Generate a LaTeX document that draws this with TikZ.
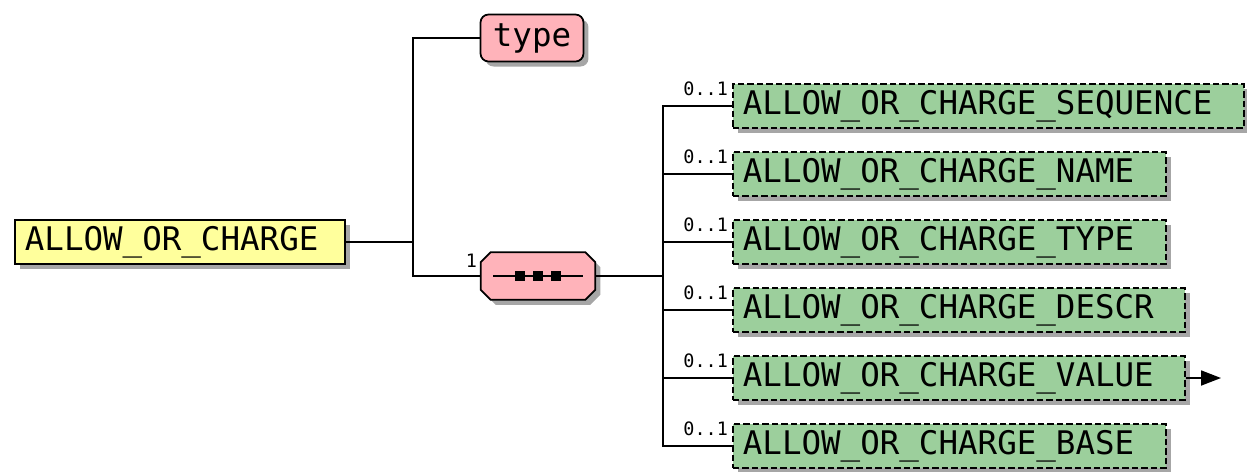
\documentclass[tikz,border=0pt]{standalone}
\usepackage{fontspec}
\setmonofont{DejaVu Sans Mono}
\usepackage{xcolor}
\usepackage{tikz}
\usetikzlibrary{arrows.meta,positioning,calc,shadows}

\definecolor{rootyellow}{HTML}{FFFF9C}
\definecolor{attrpink}{HTML}{FFB3BA}
\definecolor{elemgreen}{HTML}{9CCF9C}
\definecolor{shadowgray}{HTML}{A6A6A6}

\begin{document}
\begin{tikzpicture}[
  x=0.02cm, y=-0.02cm,
  font=\ttfamily\fontsize{18.5}{20}\selectfont,
  shade/.style={drop shadow={shadow xshift=0.1cm, shadow yshift=-0.1cm, fill=shadowgray, opacity=1}},
  root/.style={draw, line width=1pt, fill=rootyellow, shade, anchor=west, align=left, inner xsep=0.2cm, minimum height=0.88cm},
  attr/.style={draw, line width=1pt, fill=attrpink, shade, rounded corners=0.16cm, minimum width=2.06cm, minimum height=0.94cm, inner sep=0pt},
  seq/.style={minimum width=2.28cm, minimum height=0.94cm, inner sep=0pt},
  seqoutline/.style={draw, line width=1pt, fill=attrpink, shade},
  elem/.style={draw, line width=1pt, dash pattern=on 0.13cm off 0.06cm, fill=elemgreen, shade, anchor=west, align=left, inner xsep=0.2cm, minimum height=0.88cm},
  wire/.style={line width=1pt},
  card/.style={font=\ttfamily\fontsize{10.5}{12}\selectfont, inner sep=1pt, anchor=south east}
]
\useasboundingbox (0,0) rectangle (1247,471);

% root element
\node[root, text width=6.2cm] (charge) at (14,242) {ALLOW\_OR\_CHARGE};

% attribute and sequence
\node[attr] (type) at (532,38) {type};
\node[seq] (sequence) at (538,276) {};
\draw[seqoutline] ($(sequence.north west)+(10,0)$) -- ($(sequence.north east)+(-10,0)$)
  -- ($(sequence.north east)+(0,10)$) -- ($(sequence.south east)+(0,-10)$)
  -- ($(sequence.south east)+(-10,0)$) -- ($(sequence.south west)+(10,0)$)
  -- ($(sequence.south west)+(0,-10)$) -- ($(sequence.north west)+(0,10)$) -- cycle;
\draw[wire] ($(sequence.center)+(-45,0)$) -- ($(sequence.center)+(45,0)$);
\foreach \dx in {-18,0,18}
  \fill ($(sequence.center)+(\dx,0)$) +(-5,-5) rectangle +(5,5);
\node[card] at (479,270) {1};

% child elements
\node[elem, text width=9.82cm] (seqno) at (732,106) {ALLOW\_OR\_CHARGE\_SEQUENCE};
\node[elem, text width=8.26cm] (name) at (732,174) {ALLOW\_OR\_CHARGE\_NAME};
\node[elem, text width=8.26cm] (kind) at (732,242) {ALLOW\_OR\_CHARGE\_TYPE};
\node[elem, text width=8.64cm] (descr) at (732,310) {ALLOW\_OR\_CHARGE\_DESCR};
\node[elem, text width=8.64cm] (value) at (732,378) {ALLOW\_OR\_CHARGE\_VALUE};
\node[elem, text width=8.26cm] (base) at (732,446) {ALLOW\_OR\_CHARGE\_BASE};

% connectors
\coordinate (rootfork) at (413,242);
\coordinate (seqfork) at (663,276);
\draw[wire] (charge.east) -- (rootfork);
\draw[wire] (type.west) -| (rootfork) |- (sequence.west);
\draw[wire] (sequence.east) -- (seqfork);
\draw[wire] (seqno.west) -| (seqfork) |- (base.west);
\foreach \child in {name,kind,descr,value}
  \draw[wire] (\child.west) -- (seqfork |- \child.west);
\foreach \child in {seqno,name,kind,descr,value,base}
  \node[card] at ($(\child.west)+(-2,-8)$) {0..1};

\coordinate (valueend) at (1221,378);
\draw[wire, -{Triangle[length=0.4cm, width=0.3cm]}] (value.east) -- (valueend);
\end{tikzpicture}
\end{document}
